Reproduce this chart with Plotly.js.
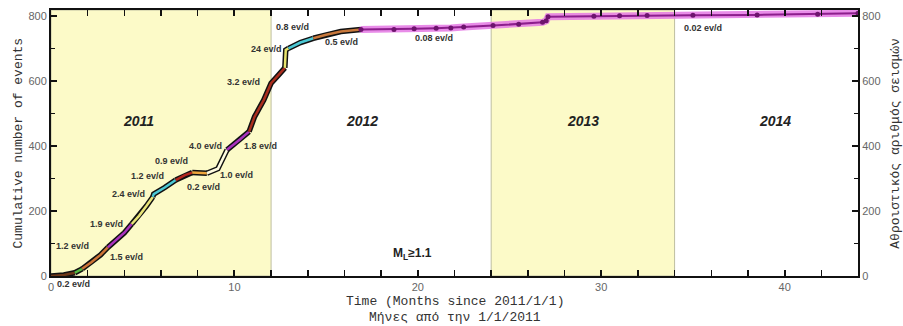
<!DOCTYPE html>
<html>
<head>
<meta charset="utf-8">
<script src="https://cdn.plot.ly/plotly-3.0.1.min.js"></script>
<style>html,body{margin:0;padding:0;background:#fff;}#chart{width:903px;height:326px;}</style>
</head>
<body>
<div id="chart"></div>
<script>
// ---- data ----
const months = [0, 0.7, 1.3, 1.7, 2.2, 2.7, 3.1, 3.5, 4.0, 4.4, 4.8, 5.2, 5.55, 5.6, 6.2, 6.8, 7.3, 7.7, 8.1, 8.5, 9.1, 9.6, 9.8, 10.3, 10.8, 11.1, 11.6, 12.0, 12.4, 12.75, 12.8, 12.95, 13.6, 14.3, 15.0, 15.8, 16.9, 18.7, 19.8, 21.0, 21.8, 22.5, 24.1, 25.5, 26.8, 27.0, 27.1, 29.6, 31.0, 32.5, 35.0, 38.5, 41.8, 44.0];
const events = [0, 3, 10, 22, 42, 65, 88, 108, 133, 160, 185, 215, 243, 252, 272, 295, 310, 318, 318, 316, 330, 388, 398, 420, 444, 490, 541, 593, 618, 640, 695, 700, 718, 731, 742, 752, 758, 758, 760, 762, 763, 766, 770, 774, 780, 785, 797, 799, 800, 801, 802, 803, 805, 808];
// rate periods: boundaries (months) and rate labels
const periodEnds = [1.3, 1.7, 3.1, 4.4, 5.55, 6.8, 7.7, 8.5, 9.6, 10.8, 12.75, 12.95, 14.3, 16.9, 44.0];
const rateLabels = ["0.2 ev/d", "1.2 ev/d", "1.5 ev/d", "1.9 ev/d", "2.4 ev/d", "1.2 ev/d", "0.9 ev/d", "0.2 ev/d", "1.0 ev/d", "4.0 ev/d", "1.8 ev/d", "3.2 ev/d", "24 ev/d", "0.8 ev/d", "0.5 ev/d", "0.08 ev/d", "0.02 ev/d"];
const yearLabels = ["2011", "2012", "2013", "2014"];
const tickVals = [0, 200, 400, 600, 800];
const xTitleLines = ["Time (Months since 2011/1/1)", "Μήνες από την 1/1/2011"];
const yTitleLeft = "Cumulative number of events";
const yTitleRight = "Αθροιστικός αριθμός σεισμών";

// ---- styles / positions ----
const segColors = ['rgb(110,55,25)', 'rgb(85,185,65)', 'rgb(205,115,55)', 'rgb(170,50,190)', 'rgb(232,228,120)',
  'rgb(75,200,212)', 'rgb(180,40,30)', 'rgb(238,165,60)', 'rgb(255,252,225)', 'rgb(170,50,190)',
  'rgb(170,45,30)', 'rgb(232,228,110)', 'rgb(75,200,212)', 'rgb(200,120,60)', 'rgb(140,30,140)'];
const yMax = 818;
const ratePos = [[1.2, -24], [1.18, 93], [4.09, 59], [3.0, 160], [4.22, 252], [5.27, 308], [6.55, 354], [8.31, 275],
  [10.13, 311], [8.4, 400], [11.4, 401], [10.49, 598], [11.77, 698], [13.18, 765], [15.86, 719], [20.86, 731], [35.53, 762]];
const yearPos = [[4.75, 477], [16.95, 477], [29.0, 477], [39.5, 477]];

const traces = [];
let start = 0;
periodEnds.forEach((end, i) => {
  const xs = [], ys = [];
  months.forEach((m, k) => { if (m >= start - 1e-9 && m <= end + 1e-9) { xs.push(m); ys.push(events[k]); } });
  const last = i === periodEnds.length - 1;
  if (!last) {
    traces.push({x: xs, y: ys, mode: 'lines', line: {color: '#111', width: 5.5}, hoverinfo: 'skip', showlegend: false});
    traces.push({x: xs, y: ys, mode: 'lines', line: {color: segColors[i], width: 2.5}, hoverinfo: 'skip', showlegend: false});
  } else {
    traces.push({x: xs, y: ys, mode: 'lines', line: {color: 'rgba(228,120,228,0.85)', width: 7}, hoverinfo: 'skip', showlegend: false});
    traces.push({x: xs, y: ys, mode: 'lines+markers', line: {color: segColors[i], width: 2},
      marker: {color: 'rgb(110,20,110)', size: 5}, hoverinfo: 'skip', showlegend: false});
  }
  start = end;
});
// right axis dummy trace
traces.push({x: [0], y: [0], yaxis: 'y2', mode: 'markers', marker: {opacity: 0}, hoverinfo: 'skip', showlegend: false});

const labelFont = {family: 'Liberation Sans, Arial', size: 9, color: '#333', weight: 'bold'};
const titleFont = {family: 'Liberation Mono, Courier New, monospace', size: 13, color: '#333'};
const mid = {showarrow: false, xanchor: 'center', yanchor: 'middle'};
const annotations = [];
rateLabels.forEach((t, i) => annotations.push(Object.assign({x: ratePos[i][0], xref: 'x', y: ratePos[i][1] / yMax, yref: 'paper',
  text: t, font: labelFont}, mid)));
yearLabels.forEach((t, i) => annotations.push(Object.assign({x: yearPos[i][0], y: yearPos[i][1], text: '<b><i>' + t + '</i></b>',
  font: {family: 'Liberation Sans, Arial', size: 14, color: '#222'}}, mid)));
annotations.push(Object.assign({x: 19.7, y: 68, text: '<b>M<sub>L</sub>≥1.1</b>',
  font: {family: 'Liberation Sans, Arial', size: 12, color: '#222'}}, mid));
annotations.push(Object.assign({x: 0.5, xref: 'paper', y: -0.094, yref: 'paper', text: xTitleLines[0], font: titleFont}, mid));
annotations.push(Object.assign({x: 0.5, xref: 'paper', y: -0.155, yref: 'paper', text: xTitleLines[1], font: titleFont}, mid));
annotations.push(Object.assign({x: -0.0415, xref: 'paper', y: 0.5, yref: 'paper', text: yTitleLeft, textangle: -90, font: titleFont}, mid));
annotations.push(Object.assign({x: 1.0455, xref: 'paper', y: 0.5, yref: 'paper', text: yTitleRight, textangle: -90, font: titleFont}, mid));

const bandStyle = {type: 'rect', xref: 'x', yref: 'paper', y0: 0, y1: 1, fillcolor: 'rgb(252,250,200)',
  line: {color: 'rgb(190,190,160)', width: 1}, layer: 'below'};
const shapes = [Object.assign({x0: 0, x1: 12}, bandStyle), Object.assign({x0: 24, x1: 34}, bandStyle)];

const tickFont = {family: 'Liberation Sans, Arial', size: 11, color: '#666'};

const layout = {
  width: 903, height: 326,
  margin: {l: 51, r: 45, t: 10, b: 50},
  paper_bgcolor: '#fff', plot_bgcolor: '#fff',
  showlegend: false,
  xaxis: {range: [0, 44], tickvals: [0, 10, 20, 30, 40], ticks: 'inside', ticklen: 6, tickwidth: 2, tickcolor: '#111',
    minor: {dtick: 2, tick0: 0, ticks: 'inside', ticklen: 4, tickwidth: 1.5, tickcolor: '#111'},
    showline: true, linecolor: '#111', linewidth: 2, mirror: 'allticks', showgrid: false, zeroline: false,
    tickfont: tickFont},
  yaxis: {range: [0, yMax], tickvals: tickVals, ticks: 'inside', ticklen: 6, tickwidth: 2, tickcolor: '#111',
    minor: {dtick: 100, tick0: 0, ticks: 'inside', ticklen: 4, tickwidth: 1.5, tickcolor: '#111'},
    showline: true, linecolor: '#111', linewidth: 2, showgrid: false, zeroline: false, tickfont: tickFont},
  yaxis2: {range: [0, yMax], overlaying: 'y', side: 'right', tickvals: tickVals, ticks: 'inside', ticklen: 6, tickwidth: 2, tickcolor: '#111',
    minor: {dtick: 100, tick0: 0, ticks: 'inside', ticklen: 4, tickwidth: 1.5, tickcolor: '#111'},
    showline: true, linecolor: '#111', linewidth: 2, showgrid: false, zeroline: false, tickfont: tickFont},
  shapes: shapes,
  annotations: annotations
};

Plotly.newPlot('chart', traces, layout, {displayModeBar: false, staticPlot: true});
</script>
</body>
</html>
